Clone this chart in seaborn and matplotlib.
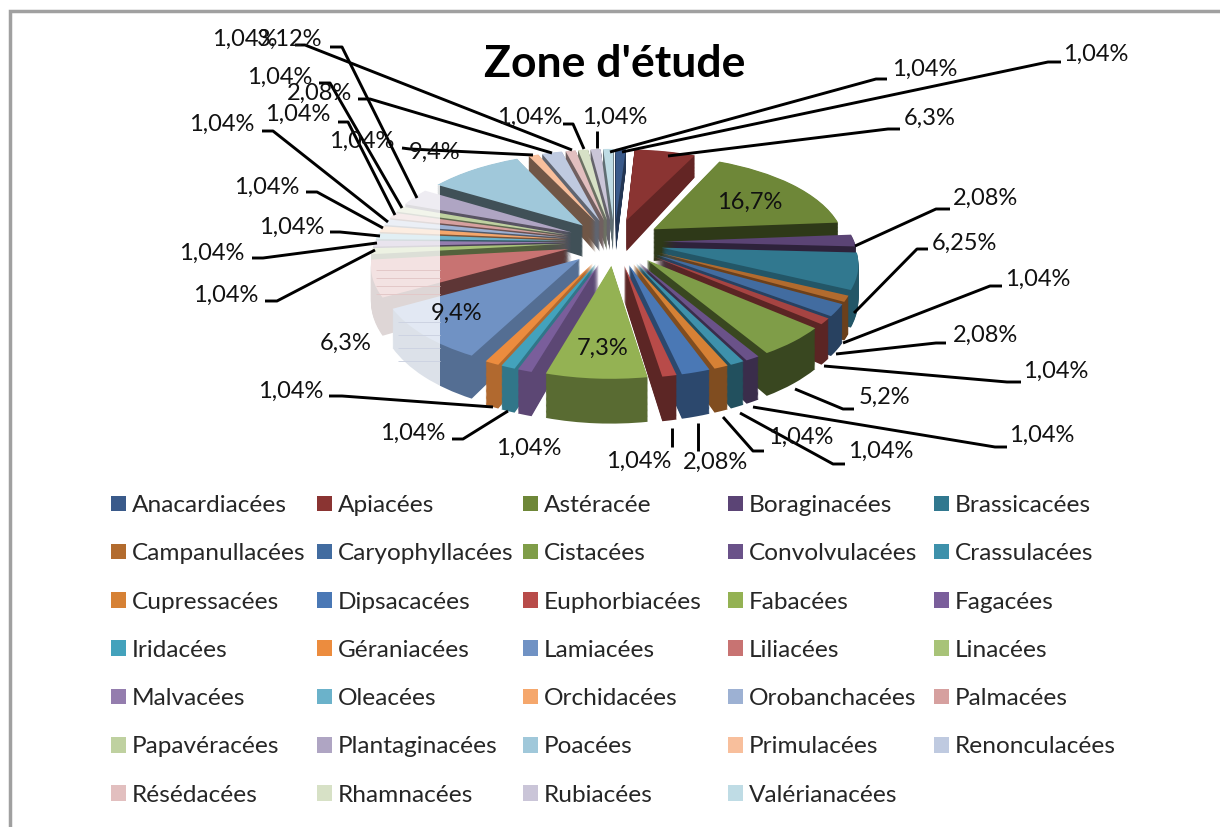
import numpy as np
import matplotlib
matplotlib.use("Agg")
import matplotlib.pyplot as plt
from matplotlib.patches import Patch, Rectangle
from matplotlib.transforms import Transform
import seaborn as sns

# slice order is clockwise from the top, the 8th slice has no legend entry
families = ["Anacardiacées", "Apiacées", "Astéracée", "Boraginacées", "Brassicacées", "Campanullacées",
            "Caryophyllacées", "", "Cistacées", "Convolvulacées", "Crassulacées", "Cupressacées",
            "Dipsacacées", "Euphorbiacées", "Fabacées", "Fagacées", "Iridacées", "Géraniacées",
            "Lamiacées", "Liliacées", "Linacées", "Malvacées", "Oleacées", "Orchidacées",
            "Orobanchacées", "Palmacées", "Papavéracées", "Plantaginacées", "Poacées", "Primulacées",
            "Renonculacées", "Résédacées", "Rhamnacées", "Rubiacées", "Valérianacées"]
values = [1.04, 6.3, 16.7, 2.08, 6.25, 1.04, 2.08, 1.04, 5.2, 1.04, 1.04, 1.04,
          2.08, 1.04, 7.3, 1.04, 1.04, 1.04, 9.4, 6.3, 1.04, 1.04, 1.04, 1.04,
          1.04, 1.04, 1.04, 3.12, 9.4, 1.04, 2.08, 1.04, 1.04, 1.04, 1.04]
value_labels = ["1,04%", "6,3%", "16,7%", "2,08%", "6,25%", "1,04%", "2,08%", "1,04%", "5,2%", "1,04%", "1,04%", "1,04%",
                "2,08%", "1,04%", "7,3%", "1,04%", "1,04%", "1,04%", "9,4%", "6,3%", "1,04%", "1,04%", "1,04%", "1,04%",
                "1,04%", "1,04%", "1,04%", "3,12%", "9,4%", "1,04%", "2,08%", "1,04%", "1,04%", "1,04%", "1,04%"]
colors = ["#3A5A8A", "#8A3432", "#6E8738", "#5B4475", "#31788F", "#B26B2E",
          "#426CA0", "#A64442", "#7F9D48", "#6A5289", "#3E91AB", "#D68135",
          "#4A78B5", "#B84B49", "#94B253", "#7A5E9B", "#43A2BC", "#EC8C3E",
          "#7092C4", "#C87372", "#A8C378", "#947DAE", "#6BB2CA", "#F5A76C",
          "#9DB1D3", "#D6A09F", "#BFD1A0", "#AFA5C3", "#A0C8DA", "#F8BF9C",
          "#BFCAE0", "#E2BFBF", "#D7E1C6", "#CAC5D8", "#BFDCE5"]
# how dark the side walls are, per slice
wall_shade = [0.6, 0.72, 0.42, 0.5, 0.72, 0.6, 0.6, 0.55, 0.45, 0.55, 0.55, 0.6,
              0.6, 0.5, 0.6, 0.75, 0.73, 0.75, 0.75, 0.47, 0.5, 0.5, 0.5, 0.5,
              0.5, 0.5, 0.5, 0.5, 0.4, 0.45, 0.5, 0.5, 0.5, 0.5, 0.5]

# label centre and leader line, in pixels, same order as the slices
label_pos = [(1096, 54), (930, 118), (750, 202), (985, 198), (964, 243), (1038, 279), (985, 335), (1056, 371),
             (884, 397), (1042, 435), (881, 451), (801, 437), (715, 462), (639, 461), (603, 348), (529, 448),
             (413, 433), (291, 391), (457, 313), (346, 343), (226, 295), (212, 253), (292, 227), (267, 187),
             (222, 124), (298, 114), (280, 77), (290, 39), (435, 152), (362, 141), (320, 93), (245, 39),
             (530, 117), (615, 117), (925, 69)]
leaders = [[(1061, 62), (1048, 62), (622, 152)], [(900, 129), (888, 129), (668, 156)], None,
           [(950, 209), (936, 209), (855, 246)], [(928, 249), (917, 249), (854, 313)],
           [(1002, 286), (990, 286), (843, 343)], [(946, 343), (936, 343), (836, 354)],
           [(1021, 382), (1007, 382), (824, 366)], [(854, 409), (843, 409), (795, 389)],
           [(1007, 447), (995, 447), (753, 407)], [(845, 464), (833, 464), (740, 413)],
           [(764, 451), (753, 451), (723, 417)], [(698, 451), (698, 423)], [(672, 447), (672, 428)],
           None, None, [(452, 439), (463, 439), (508, 411)], [(329, 396), (342, 396), (493, 407)], None, None,
           [(265, 301), (277, 301), (375, 250)], [(252, 258), (263, 258), (377, 243)],
           [(330, 232), (340, 232), (380, 236)], [(306, 192), (317, 192), (383, 228)],
           [(262, 131), (273, 131), (388, 222)], [(338, 122), (348, 122), (395, 215)],
           [(319, 83), (330, 83), (402, 208)], [(330, 47), (342, 47), (417, 198)], None,
           [(402, 148), (410, 149), (533, 155)], [(358, 99), (370, 99), (552, 153)],
           [(295, 45), (305, 45), (572, 150)], [(563, 124), (573, 124), (584, 149)],
           [(597, 131), (597, 148)], [(887, 79), (876, 79), (610, 152)]]

W, H = 1220, 827
sns.set_theme(style="white")
plt.rcParams["font.family"] = ["Lato", "DejaVu Sans"]


class Perspective(Transform):
    """narrows the far side of a layer and widens the near side"""
    input_dims = output_dims = 2

    def __init__(self, base, k=0.15):
        super().__init__()
        self.base = base
        self.k = k

    def transform_non_affine(self, values):
        v = np.asarray(values, dtype=float)
        return np.column_stack([v[:, 0] * (1 - self.k * (v[:, 1] - self.base)), v[:, 1]])


fig = plt.figure(figsize=(W / 100, H / 100), dpi=100, facecolor="white")

# pie axes: y goes through a quadratic so the near side of the pie looks bigger
cx, rx = 614.5, 192
y0, a, b = 242, 92, 14
ytop, ybot = 1.9, -1.9
def py(y):
    return y0 - a * y + b * y ** 2
ax = fig.add_axes([0, 1 - py(ybot) / H, 1, (py(ybot) - py(ytop)) / H])

pal = np.array(sns.color_palette(colors))
side = pal * np.array(wall_shade)[:, None]
explode = [48 / rx] * len(values)
depth, layers = 0.34, 38
layer_list = []
for k in range(layers, -1, -1):
    base = -depth * k / layers
    wedges, _ = ax.pie(values, explode=explode, colors=side if k else pal, startangle=90, counterclock=False,
                       center=(0, base), frame=True, wedgeprops={"linewidth": 0})
    layer_list.append((base, wedges))
ax.set_aspect("auto")
ax.set_yscale("function", functions=(lambda y: a * y - b * y ** 2,
                                     lambda z: (a - np.sqrt(np.maximum(a ** 2 - 4 * b * z, 0))) / (2 * b)))
ax.set_xlim(-cx / rx, (W - cx) / rx)
ax.set_ylim(ybot, ytop)
ax.axis("off")
for base, wedges in layer_list:
    for w in wedges:
        w.set_transform(Perspective(base) + ax.transData)

# overlay in pixel coordinates
over = fig.add_axes([0, 0, 1, 1])
over.set_xlim(0, W)
over.set_ylim(H, 0)
over.axis("off")
over.patch.set_alpha(0)

over.add_patch(Rectangle((355, 185), 85, 250, facecolor="white", alpha=0.8, linewidth=0))
over.hlines(np.arange(270, 295, 8), 376, 440, color="#E3C8C8", lw=0.7)
over.hlines(np.arange(322, 370, 13), 398, 440, color="#CDD3E2", lw=0.7)

# frame of the original picture
over.plot([10, 10, W], [H, 11, 11], color="#A0A0A0", lw=2.5, solid_joinstyle="miter", clip_on=False)

for pos, lab, line in zip(label_pos, value_labels, leaders):
    if line is not None:
        over.plot(*zip(*line), color="black", lw=2.1, solid_capstyle="butt")
    over.text(pos[0], pos[1], lab, ha="center", va="center", fontsize=17, color="#111111")

over.text(615, 64, "Zone d'étude", ha="center", va="center", fontsize=32, fontweight="bold", color="black")

# legend, one per column so the columns stay evenly spaced
named = [(n, c) for n, c in zip(families, colors) if n]
col_x = [111, 317, 523, 728, 934]
for j, x in enumerate(col_x):
    handles = [Patch(facecolor=c, edgecolor="none", label=n) for n, c in named[j::5]]
    fig.legend(handles=handles, loc="upper left", bbox_to_anchor=(x / W, 1 - 495 / H), ncol=1,
               frameon=False, fontsize=17.6, borderpad=0, borderaxespad=0,
               handlelength=0.61, handleheight=0.61, handletextpad=0.25, labelspacing=1.115)

fig.savefig("out.png", dpi=100)
plt.close(fig)
